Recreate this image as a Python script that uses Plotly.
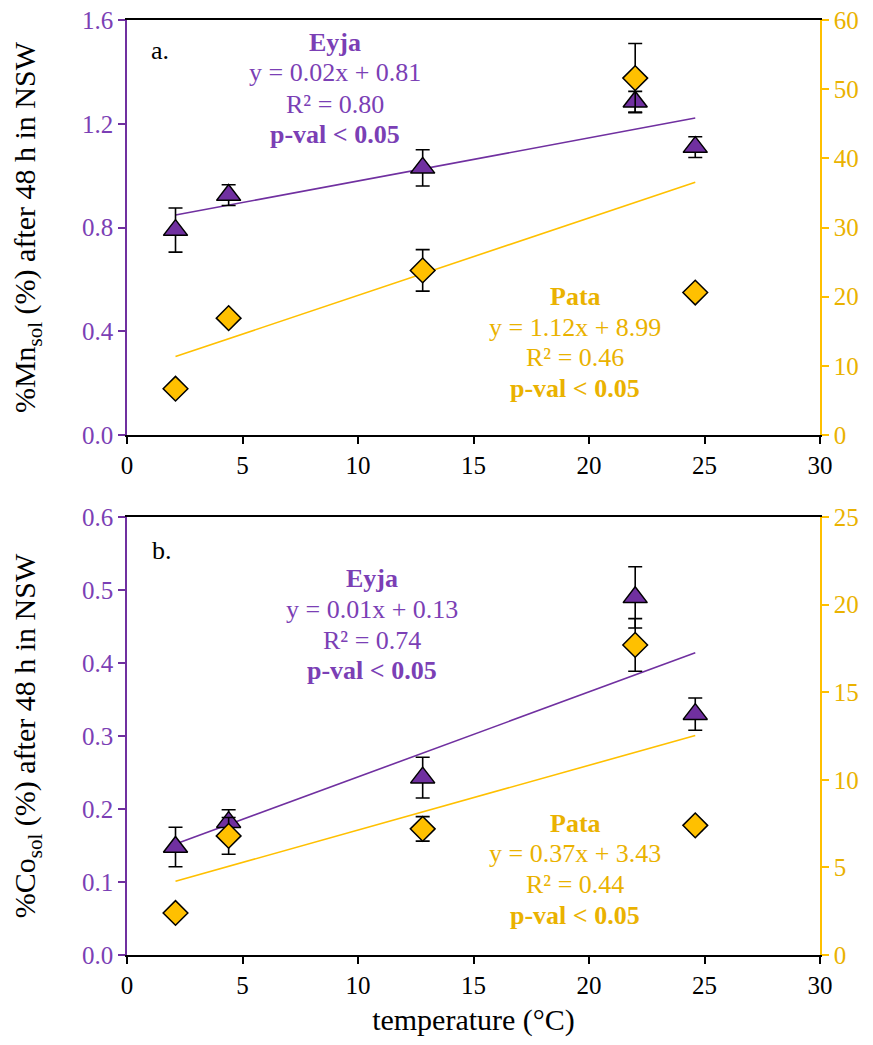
import plotly.graph_objects as go

# ---------------- data ----------------
temperature = [2.1, 4.4, 12.8, 22.0, 24.6]

# panel a: Mn (Eyja left axis, Pata right axis)
mn_eyja = [0.79, 0.925, 1.03, 1.285, 1.11]
mn_eyja_err = [0.085, 0.04, 0.07, 0.04, 0.04]
mn_pata = [6.7, 16.9, 23.8, 51.6, 20.6]
mn_pata_err = [0.0, 0.0, 3.0, 5.0, 0.0]

# panel b: Co
co_eyja = [0.148, 0.182, 0.243, 0.49, 0.33]
co_eyja_err = [0.027, 0.017, 0.028, 0.042, 0.022]
co_pata = [2.4, 6.8, 7.2, 17.7, 7.4]
co_pata_err = [0.0, 1.05, 0.7, 1.5, 0.3]

# trend line end points (x from first to last temperature)
trend_x = [2.1, 24.6]
mn_eyja_trend = [0.848, 1.222]
mn_pata_trend = [11.34, 36.54]
co_eyja_trend = [0.152, 0.414]
co_pata_trend = [4.21, 12.53]

PURPLE = "#7030A0"
PURPLE_TXT = "#7B3FB5"
GOLD = "#FFC000"
GOLD_TXT = "#EAB200"
FONT = "Liberation Serif, Times New Roman, serif"

fig = go.Figure()

def add_panel(xa, ya_left, ya_right, eyja, eyja_err, pata, pata_err, eyja_tr, pata_tr):
    fig.add_trace(go.Scatter(x=trend_x, y=eyja_tr, mode="lines",
                             line=dict(color=PURPLE, width=1.6),
                             xaxis=xa, yaxis=ya_left, showlegend=False, hoverinfo="skip"))
    fig.add_trace(go.Scatter(x=temperature, y=eyja, mode="markers",
                             marker=dict(symbol="triangle-up", size=21, color=PURPLE,
                                         line=dict(color="black", width=1.5)),
                             error_y=dict(type="data", array=eyja_err, color="black",
                                          thickness=1.6, width=7),
                             xaxis=xa, yaxis=ya_left, showlegend=False))
    fig.add_trace(go.Scatter(x=trend_x, y=pata_tr, mode="lines",
                             line=dict(color=GOLD, width=1.6),
                             xaxis=xa, yaxis=ya_right, showlegend=False, hoverinfo="skip"))
    fig.add_trace(go.Scatter(x=temperature, y=pata, mode="markers",
                             marker=dict(symbol="diamond", size=19, color=GOLD,
                                         line=dict(color="black", width=1.5)),
                             error_y=dict(type="data", array=pata_err, color="black",
                                          thickness=1.6, width=7),
                             xaxis=xa, yaxis=ya_right, showlegend=False))

add_panel("x", "y", "y2", mn_eyja, mn_eyja_err, mn_pata, mn_pata_err, mn_eyja_trend, mn_pata_trend)
add_panel("x2", "y3", "y4", co_eyja, co_eyja_err, co_pata, co_pata_err, co_eyja_trend, co_pata_trend)

TICK = 25
tickfont_black = dict(family=FONT, size=TICK, color="black")
xcommon = dict(range=[0, 30], tickvals=[0, 5, 10, 15, 20, 25, 30], ticks="outside",
               ticklen=7, tickwidth=1.5, tickcolor="black", showline=True,
               linecolor="black", linewidth=1.5, mirror=True, showgrid=False,
               zeroline=False, tickfont=tickfont_black, automargin=False,
               ticklabeloverflow="allow")

def yleft(rng, dtick, dom, anchor, title):
    return dict(range=rng, dtick=dtick, tick0=0, tickformat=".1f", domain=dom, anchor=anchor,
                ticks="outside", ticklen=7, tickwidth=1.5, tickcolor=PURPLE,
                showline=True, linecolor=PURPLE, linewidth=1.5, showgrid=False,
                zeroline=False, tickfont=dict(family=FONT, size=TICK, color=PURPLE_TXT),
                automargin=False, ticklabeloverflow="allow",
                title=dict(text=title, font=dict(family=FONT, size=30, color="black"),
                           standoff=37))

def yright(rng, dtick, overlay, anchor):
    return dict(range=rng, dtick=dtick, tick0=0, overlaying=overlay, side="right", anchor=anchor,
                ticks="outside", ticklen=7, tickwidth=1.5, tickcolor=GOLD,
                showline=True, linecolor=GOLD, linewidth=1.5, showgrid=False,
                zeroline=False, tickfont=dict(family=FONT, size=TICK, color=GOLD_TXT),
                automargin=False, ticklabeloverflow="allow")

dom_a = [0.5561, 1.0]
dom_b = [0.0, 0.4684]

# page body adds an 8px offset; compensate so the plot lands where the reference has it
fig.update_layout(
    width=857, height=1029,
    margin=dict(l=119, r=45, t=12, b=82),
    paper_bgcolor="white", plot_bgcolor="white",
    font=dict(family=FONT),
    xaxis=dict(**xcommon, anchor="y", domain=[0, 1]),
    xaxis2=dict(**xcommon, anchor="y3", domain=[0, 1],
                title=dict(text="temperature (°C)", font=dict(family=FONT, size=30, color="black"),
                           standoff=24)),
    yaxis=yleft([0, 1.6], 0.4, dom_a, "x", "%Mn<sub>sol</sub> (%) after 48 h in NSW"),
    yaxis2=yright([0, 60], 10, "y", "x"),
    yaxis3=yleft([0, 0.6], 0.1, dom_b, "x2", "%Co<sub>sol</sub> (%) after 48 h in NSW"),
    yaxis4=yright([0, 25], 5, "y3", "x2"),
)

W = 693.0
H = 935.0

def label(xp, yp, text, color, bold=False, size=26):
    fig.add_annotation(x=(xp - 127) / W, y=(955 - yp) / H, xref="paper", yref="paper",
                       xanchor="center", yanchor="middle",
                       text=("<b>%s</b>" % text) if bold else text, showarrow=False,
                       font=dict(family=FONT, size=size, color=color))

# panel a
label(160, 50, "a.", "black")
label(335, 42, "Eyja", PURPLE_TXT, True)
label(335, 73, "y = 0.02x + 0.81", PURPLE_TXT)
label(335, 104, "R² = 0.80", PURPLE_TXT)
label(335, 134, "p-val < 0.05", PURPLE_TXT, True)
label(575, 296, "Pata", GOLD_TXT, True)
label(575, 327, "y = 1.12x + 8.99", GOLD_TXT)
label(575, 358, "R² = 0.46", GOLD_TXT)
label(575, 388, "p-val < 0.05", GOLD_TXT, True)
# panel b
label(162, 550, "b.", "black")
label(372, 578, "Eyja", PURPLE_TXT, True)
label(372, 609, "y = 0.01x + 0.13", PURPLE_TXT)
label(372, 640, "R² = 0.74", PURPLE_TXT)
label(372, 670, "p-val < 0.05", PURPLE_TXT, True)
label(575, 823, "Pata", GOLD_TXT, True)
label(575, 853, "y = 0.37x + 3.43", GOLD_TXT)
label(575, 884, "R² = 0.44", GOLD_TXT)
label(575, 915, "p-val < 0.05", GOLD_TXT, True)

fig.write_html("out.html")
